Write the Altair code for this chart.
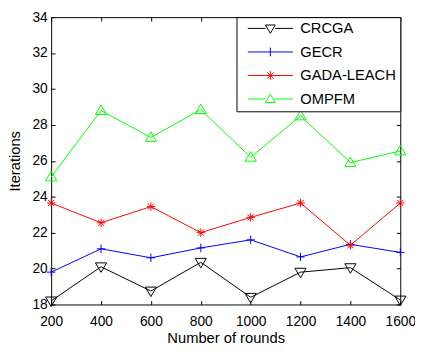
import altair as alt
import pandas as pd

rounds = [200, 400, 600, 800, 1000, 1200, 1400, 1600]
series_names = ["CRCGA", "GECR", "GADA-LEACH", "OMPFM"]
crcga = [18.2, 20.1, 18.75, 20.35, 18.4, 19.8, 20.05, 18.25]
gecr = [19.8, 21.1, 20.6, 21.15, 21.6, 20.65, 21.35, 20.9]
gada_leach = [23.65, 22.55, 23.45, 22.0, 22.85, 23.65, 21.3, 23.65]
ompfm = [25.1, 28.8, 27.3, 28.85, 26.2, 28.5, 25.9, 26.55]
colors = ["#000000", "#0000ff", "#ff0000", "#00ff00"]
y_ticks = [18, 20, 22, 24, 26, 28, 30, 32, 34]

values = [crcga, gecr, gada_leach, ompfm]
rows = []
for name, vals in zip(series_names, values):
    for r, v in zip(rounds, vals):
        rows.append({"round": r, "iterations": v, "series": name})
df = pd.DataFrame(rows)

# marker glyphs (unit square paths)
tri_down = "M-1,-0.7L1,-0.7L0,1Z"
tri_up = "M-1,0.7L1,0.7L0,-1Z"
plus_s = "M-0.75,0L0.75,0M0,-0.75L0,0.75"
aster_s = "M-0.75,0L0.75,0M0,-0.75L0,0.75M-0.55,-0.55L0.55,0.55M-0.55,0.55L0.55,-0.55"
markers = [tri_down, plus_s, aster_s, tri_up]

# legend glyphs: line segment starting at the anchor, marker at its middle
lg_tri_down = "M0,0L3.6,0M5.6,0L9.2,0M3.6,-0.7L5.6,-0.7L4.6,1Z"
lg_plus = "M0,0L9.2,0M4.6,-0.9L4.6,0.9"
lg_aster = "M0,0L9.2,0M4.6,-0.9L4.6,0.9M3.95,-0.65L5.25,0.65M3.95,0.65L5.25,-0.65"
lg_tri_up = "M0,0L3.6,0M5.6,0L9.2,0M3.6,0.7L5.6,0.7L4.6,-1Z"
legend_shapes = [lg_tri_down, lg_plus, lg_aster, lg_tri_up]

W, H = 356, 293
FONT = "Arial, Liberation Sans"

xs = alt.Scale(domain=[200, 1600], nice=False, zero=False)
ys = alt.Scale(domain=[18, 34], nice=False, zero=False)
cs = alt.Scale(domain=series_names, range=colors)

x_main = alt.Axis(values=rounds, title="Number of rounds", ticks=False, tickSize=0,
                  domain=False, grid=False, labelFont=FONT, labelFontSize=14,
                  labelColor="black", labelPadding=10, labelFlush=False, labelOverlap=False,
                  format="d", titleFont=FONT, titleFontSize=15, titleFontWeight="normal",
                  titleColor="black", titleY=39, titleBaseline="alphabetic")
y_main = alt.Axis(values=y_ticks, title="Iterations", ticks=False, tickSize=0,
                  domain=False, grid=False, labelFont=FONT, labelFontSize=14,
                  labelColor="black", labelPadding=4, labelFlush=False, labelOverlap=False,
                  titleFont=FONT, titleFontSize=15, titleFontWeight="normal",
                  titleColor="black", titleX=-32, titleY=H / 2, titleBaseline="alphabetic")


def tick_axis(vals, orient, offset):
    return alt.Axis(values=vals, orient=orient, offset=offset, labels=False, ticks=True,
                    tickSize=4, tickColor="black", tickWidth=1, domain=False, grid=False,
                    title=None)


axis_layer = alt.Chart(df).mark_point(opacity=0).encode(
    x=alt.X("round:Q", scale=xs, axis=x_main),
    y=alt.Y("iterations:Q", scale=ys, axis=y_main),
)

series_layers = []
for name, shape, col in zip(series_names, markers, colors):
    sub = alt.Chart(df).transform_filter(alt.datum.series == name)
    series_layers.append(
        sub.mark_line(strokeWidth=1, color=col).encode(
            x=alt.X("round:Q", scale=xs, axis=None),
            y=alt.Y("iterations:Q", scale=ys, axis=None),
        )
    )
    series_layers.append(
        sub.mark_point(shape=shape, size=130, filled=False, strokeWidth=1, color=col,
                       opacity=1).encode(
            x=alt.X("round:Q", scale=xs, axis=None),
            y=alt.Y("iterations:Q", scale=ys, axis=None),
        )
    )

legend_layer = alt.Chart(df).mark_point(size=100, filled=False, opacity=0, strokeWidth=1).encode(
    x=alt.X("round:Q", scale=xs, axis=tick_axis(rounds, "top", -H)),
    y=alt.Y("iterations:Q", scale=ys, axis=tick_axis(y_ticks, "right", -W)),
    color=alt.Color("series:N", scale=cs, sort=series_names,
                    legend=alt.Legend(title=None, orient="top-right", offset=0, padding=4,
                                      strokeColor="black", fillColor="white", cornerRadius=0,
                                      labelFont=FONT, labelFontSize=15, labelColor="black",
                                      labelOffset=46, symbolOffset=0, rowPadding=8,
                                      columnPadding=0,
                                      symbolSize=100, symbolStrokeWidth=1, symbolOpacity=1)),
    shape=alt.Shape("series:N", scale=alt.Scale(domain=series_names, range=legend_shapes),
                    sort=series_names),
)

tick_layer = alt.Chart(df).mark_point(opacity=0).encode(
    x=alt.X("round:Q", scale=xs, axis=tick_axis(rounds, "bottom", -H)),
    y=alt.Y("iterations:Q", scale=ys, axis=tick_axis(y_ticks, "left", -W)),
)

chart = alt.layer(axis_layer, *series_layers, legend_layer, tick_layer).resolve_axis(
    x="independent", y="independent"
).properties(
    width=W, height=H,
    autosize=alt.AutoSizeParams(type="none"),
    padding={"left": 44, "top": 6, "right": 15, "bottom": 39},
    background="white",
).configure_view(stroke="black", strokeWidth=1)

chart.save("out.html", embed_options={"renderer": "svg", "actions": False})
